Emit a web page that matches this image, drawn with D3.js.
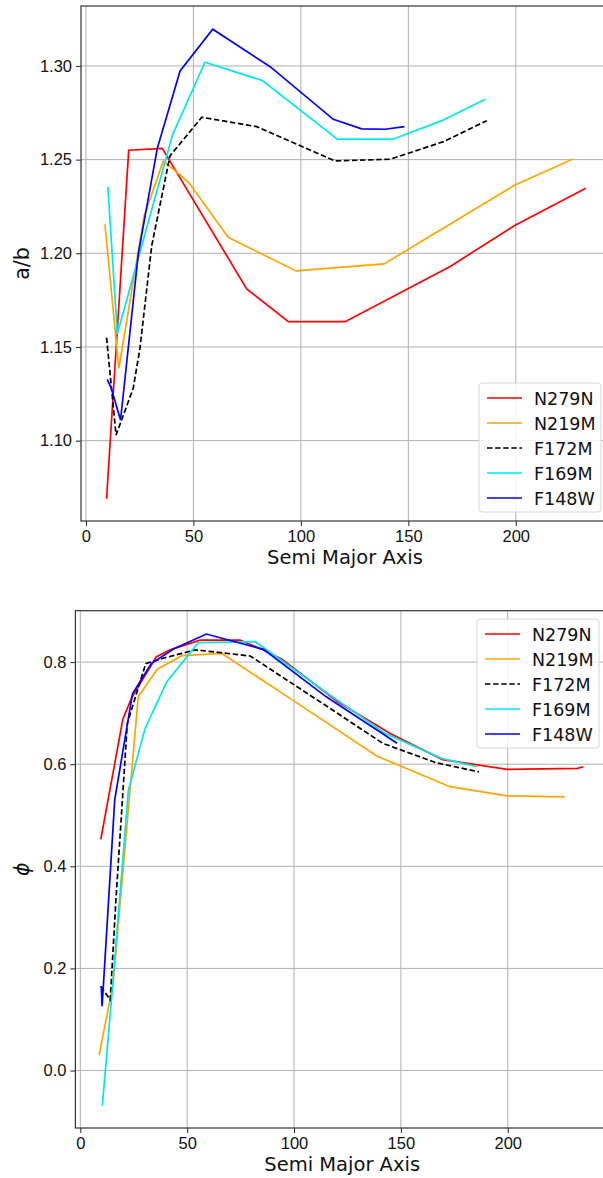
<!DOCTYPE html>
<html>
<head>
<meta charset="utf-8">
<script src="https://cdn.jsdelivr.net/npm/d3@7"></script>
<style>
body { margin: 0; background: #fff; }
svg { font-family: "DejaVu Sans", sans-serif; }
</style>
</head>
<body>
<svg id="fig" width="603" height="1178"></svg>
<script>
var filters = ["N279N", "N219M", "F172M", "F169M", "F148W"];

// a/b against semi major axis
var abN279N = [[9.6,1.069],[19.9,1.255],[35.5,1.256],[74.8,1.181],[94.2,1.1635],[120.6,1.1635],[169.5,1.193],[199.7,1.215],[232.6,1.2347]];
var abN219M = [[8.85,1.2155],[15.3,1.1386],[27.1,1.220],[36.0,1.2493],[47.6,1.2382],[66.2,1.2085],[97.8,1.1906],[138.7,1.1943],[173,1.218],[199.7,1.2365],[226.6,1.2503]];
var abF172M = [[9.6,1.155],[14.0,1.103],[16.6,1.111],[22.0,1.128],[25.1,1.149],[30.6,1.204],[39.1,1.252],[53.9,1.2726],[79.5,1.2676],[115.9,1.2493],[141.5,1.2502],[166.4,1.2596],[186.5,1.2708]];
var abF169M = [[10.2,1.2355],[14.6,1.157],[30.3,1.222],[40.3,1.2632],[55.4,1.302],[82.1,1.2922],[117,1.2609],[142.8,1.2609],[165.6,1.2708],[185.8,1.2822]];
var abF148W = [[9.9,1.1327],[11.6,1.1286],[16.1,1.111],[24.4,1.200],[33.2,1.256],[43.8,1.2973],[59.0,1.3196],[85.7,1.2996],[115.1,1.2715],[128.3,1.2664],[139.2,1.2662],[148.2,1.2676]];

// phi against semi major axis
var phiN279N = [[9.6,0.453],[19.9,0.688],[24,0.73],[35.5,0.810],[42,0.824],[56,0.843],[74.8,0.843],[84.9,0.825],[94.2,0.806],[120.6,0.722],[145,0.66],[169.5,0.609],[199.7,0.590],[232.6,0.592],[235.4,0.595]];
var phiN219M = [[8.8,0.030],[15.3,0.168],[27.1,0.732],[36.0,0.786],[47.6,0.8126],[66.2,0.817],[97.8,0.730],[138.7,0.616],[173,0.556],[199.7,0.538],[226.6,0.536]];
var phiF172M = [[9.6,0.165],[14.0,0.138],[16.6,0.33],[22.0,0.68],[30.6,0.797],[39.1,0.808],[53.9,0.824],[79.5,0.812],[115.9,0.712],[141.5,0.641],[166.4,0.603],[186.5,0.585]];
var phiF169M = [[10.3,-0.069],[14.6,0.14],[22.5,0.549],[30.3,0.670],[40.4,0.761],[55.2,0.838],[81.8,0.840],[117,0.735],[142.8,0.66],[169.1,0.6115],[185.5,0.595]];
var phiF148W = [[9.8,0.165],[10.2,0.126],[16.1,0.53],[24.4,0.738],[33.2,0.797],[43.8,0.826],[59.0,0.855],[85.7,0.825],[115.1,0.732],[128.3,0.696],[139.2,0.666],[148.2,0.641]];

var xTicks = [0, 50, 100, 150, 200];
var abTicks = [1.10, 1.15, 1.20, 1.25, 1.30];
var phiTicks = [0.0, 0.2, 0.4, 0.6, 0.8];

var colors = {N279N: "#ff0000", N219M: "#ffa500", F172M: "#000000", F169M: "#00e8e8", F148W: "#0000ff"};
var dashed = {F172M: true};

var svg = d3.select("#fig");

function panel(opt) {
  var x = d3.scaleLinear().domain([-2.3, 245.7]).range([opt.left, opt.right]);
  var y = d3.scaleLinear().domain(opt.ydom).range([opt.bottom, opt.top]);

  var g = svg.append("g");

  // grid
  g.append("g").selectAll("line").data(xTicks).enter().append("line")
      .attr("x1", d => x(d)).attr("x2", d => x(d))
      .attr("y1", opt.top).attr("y2", opt.bottom)
      .attr("stroke", "#b0b0b0").attr("stroke-width", 1);
  g.append("g").selectAll("line").data(opt.yticks).enter().append("line")
      .attr("x1", opt.left).attr("x2", 603)
      .attr("y1", d => y(d)).attr("y2", d => y(d))
      .attr("stroke", "#b0b0b0").attr("stroke-width", 1);

  var xAxis = d3.axisBottom(x).tickValues(xTicks).tickSize(5).tickPadding(4).tickFormat(d3.format("d"));
  var yAxis = d3.axisLeft(y).tickValues(opt.yticks).tickSize(5).tickPadding(4).tickFormat(d3.format(opt.yfmt));

  var gx = g.append("g").attr("transform", "translate(0," + opt.bottom + ")").call(xAxis);
  var gy = g.append("g").attr("transform", "translate(" + opt.left + ",0)").call(yAxis);
  [gx, gy].forEach(function(a) {
    a.select(".domain").remove();
    a.selectAll(".tick line").attr("stroke", "#222").attr("stroke-width", 1);
    a.selectAll("text").attr("fill", "#111").style("font-size", "16.5px");
  });

  // frame
  g.append("rect")
      .attr("x", opt.left).attr("y", opt.top)
      .attr("width", opt.right - opt.left).attr("height", opt.bottom - opt.top)
      .attr("fill", "none").attr("stroke", "#333").attr("stroke-width", 1.2);

  var line = d3.line().x(d => x(d[0])).y(d => y(d[1]));

  filters.forEach(function(f, i) {
    g.append("path")
        .datum(opt.series[i])
        .attr("d", line)
        .attr("fill", "none")
        .attr("stroke", colors[f])
        .attr("stroke-width", 1.7)
        .attr("stroke-dasharray", dashed[f] ? "5.5,2.6" : null);
  });

  // axis labels
  g.append("text")
      .attr("x", (opt.left + 603) / 2 + 3).attr("y", opt.bottom + 43)
      .attr("text-anchor", "middle").style("font-size", "19.5px").attr("fill", "#111")
      .text("Semi Major Axis");
  var yl = g.append("text")
      .attr("transform", "translate(29," + ((opt.top + opt.bottom) / 2) + ") rotate(-90)")
      .attr("text-anchor", "middle").style("font-size", "20.5px").attr("fill", "#111")
      .text(opt.ylabel);
  if (opt.italic) yl.style("font-style", "italic");

  // legend
  var lg = g.append("g").attr("transform", "translate(" + opt.legX + "," + opt.legY + ")");
  lg.append("rect")
      .attr("width", 122).attr("height", 129).attr("rx", 3)
      .attr("fill", "#fff").attr("fill-opacity", 0.85)
      .attr("stroke", "#d6d6d6").attr("stroke-width", 1);
  filters.forEach(function(f, i) {
    var yy = 15 + i * 25;
    lg.append("line")
        .attr("x1", 8).attr("x2", 43).attr("y1", yy).attr("y2", yy)
        .attr("stroke", colors[f]).attr("stroke-width", 1.7)
        .attr("stroke-dasharray", dashed[f] ? "5.5,2.6" : null);
    lg.append("text")
        .attr("x", 55).attr("y", yy + 6.5)
        .style("font-size", "17.5px").attr("fill", "#111")
        .text(f);
  });
}

panel({
  left: 81, right: 614, top: 6, bottom: 521,
  ydom: [1.0571, 1.332], yticks: abTicks, yfmt: ".2f",
  ylabel: "a/b", italic: false,
  series: [abN279N, abN219M, abF172M, abF169M, abF148W],
  legX: 479, legY: 383
});

panel({
  left: 75.4, right: 605.4, top: 610.7, bottom: 1128,
  ydom: [-0.1126, 0.9007], yticks: phiTicks, yfmt: ".1f",
  ylabel: "ϕ", italic: true,
  series: [phiN279N, phiN219M, phiF172M, phiF169M, phiF148W],
  legX: 477, legY: 619
});
</script>
</body>
</html>
